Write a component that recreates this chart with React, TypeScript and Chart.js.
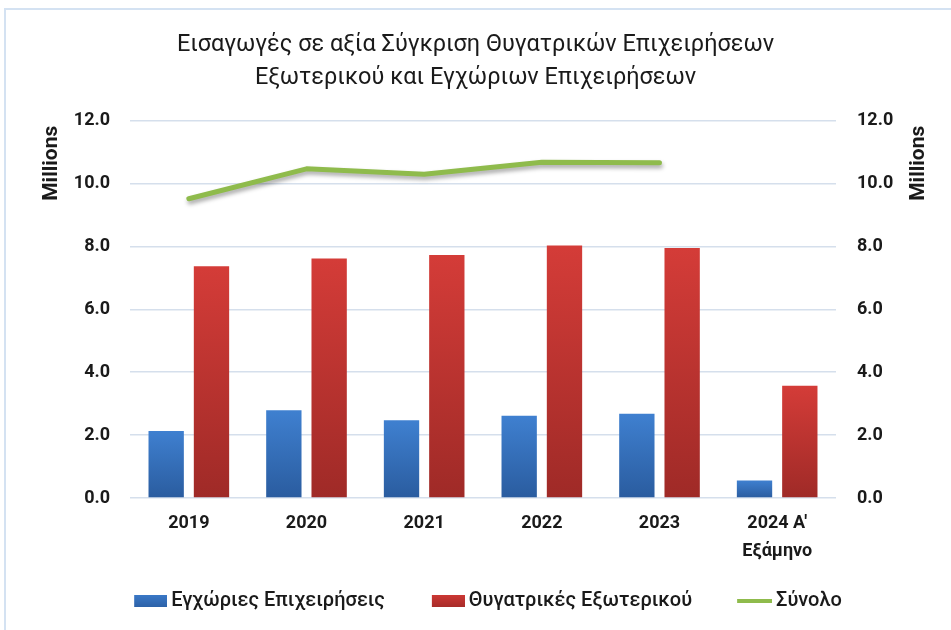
import React, { useEffect, useRef } from "react";
import { Chart, registerables } from "chart.js";

Chart.register(...registerables);

const titleLines = [
  "Εισαγωγές σε αξία Σύγκριση Θυγατρικών Επιχειρήσεων",
  "Εξωτερικού και Εγχώριων Επιχειρήσεων",
];
const categories: (string | string[])[] = ["2019", "2020", "2021", "2022", "2023", ["2024 Α'", "Εξάμηνο"]];
const seriesNames = ["Εγχώριες Επιχειρήσεις", "Θυγατρικές Εξωτερικού", "Σύνολο"];
const domestic = [2.13, 2.79, 2.47, 2.62, 2.68, 0.56];
const foreign = [7.37, 7.62, 7.73, 8.03, 7.95, 3.57];
const total: (number | null)[] = [9.52, 10.47, 10.3, 10.68, 10.66, null];
const axisUnit = "Millions";
const yMin = 0;
const yMax = 12;
const yStep = 2;

const BLUE_TOP = "#3f80d0";
const BLUE_BOT = "#2a5c9f";
const RED_TOP = "#d43c38";
const RED_BOT = "#9f2a27";
const GREEN = "#8fbb4c";
const FONT = "Roboto";

const barGradient = (top: string, bottom: string) => (ctx: any) => {
  const chart = ctx.chart;
  if (!chart.chartArea || ctx.type !== "data") return top;
  const y = chart.scales.y;
  const yTop = y.getPixelForValue(ctx.raw);
  const yBot = y.getPixelForValue(0);
  if (!isFinite(yTop) || !isFinite(yBot) || yTop === yBot) return top;
  const g = chart.ctx.createLinearGradient(0, yTop, 0, yBot);
  g.addColorStop(0, top);
  g.addColorStop(1, bottom);
  return g;
};

// legend symbol images: wide transparent canvas with the symbol at its right end
const LEG_W = 52;
const LEG_IMG_W = LEG_W + 12;
const LEG_PAD = 22;
function legendSymbol(kind: "rect" | "line", c1: string, c2: string) {
  const cv = document.createElement("canvas");
  cv.width = LEG_IMG_W;
  cv.height = 14;
  const g = cv.getContext("2d")!;
  if (kind === "rect") {
    const gr = g.createLinearGradient(0, 1, 0, 13);
    gr.addColorStop(0, c1);
    gr.addColorStop(1, c2);
    g.fillStyle = gr;
    g.fillRect(LEG_IMG_W - 33, 1, 33, 12);
  } else {
    g.strokeStyle = c1;
    g.lineWidth = 4;
    g.beginPath();
    g.moveTo(LEG_IMG_W - 35, 7);
    g.lineTo(LEG_IMG_W, 7);
    g.stroke();
  }
  return cv;
}

const lineShadow = {
  id: "lineShadow",
  beforeDatasetDraw(chart: any, args: any) {
    if (args.index === 2) {
      const c = chart.ctx;
      c.save();
      c.shadowColor = "rgba(0,0,0,0.35)";
      c.shadowBlur = 4;
      c.shadowOffsetX = 1;
      c.shadowOffsetY = 3;
    }
  },
  afterDatasetDraw(chart: any, args: any) {
    if (args.index === 2) chart.ctx.restore();
  },
};

const unitLabels = {
  id: "unitLabels",
  afterDraw(chart: any) {
    const { ctx, chartArea } = chart;
    ctx.save();
    ctx.font = `bold 21px ${FONT}`;
    ctx.fillStyle = "#1a1a1a";
    ctx.textAlign = "right";
    ctx.textBaseline = "middle";
    for (const x of [chartArea.left - 78, chartArea.right + 83]) {
      ctx.save();
      ctx.translate(x, chartArea.top + 5);
      ctx.rotate(-Math.PI / 2);
      ctx.fillText(axisUnit, 0, 0);
      ctx.restore();
    }
    ctx.restore();
  },
};

export default function App() {
  const ref = useRef<HTMLCanvasElement | null>(null);

  useEffect(() => {
    if (!ref.current) return;
    const tickFont = { family: FONT, size: 18, weight: "bold" as const, lineHeight: 1.55 };
    const symBlue = legendSymbol("rect", "#3a78c6", "#2d62a8");
    const symRed = legendSymbol("rect", "#cc3834", "#a82c29");
    const symGreen = legendSymbol("line", GREEN, GREEN);
    const chart = new Chart(ref.current, {
      type: "bar",
      data: {
        labels: categories,
        datasets: [
          {
            type: "bar",
            label: seriesNames[0],
            data: domestic,
            backgroundColor: barGradient(BLUE_TOP, BLUE_BOT),
            borderWidth: 0,
            yAxisID: "y",
            order: 2,
            categoryPercentage: 0.77,
            barPercentage: 0.78,
          },
          {
            type: "bar",
            label: seriesNames[1],
            data: foreign,
            backgroundColor: barGradient(RED_TOP, RED_BOT),
            borderWidth: 0,
            yAxisID: "y",
            order: 2,
            categoryPercentage: 0.77,
            barPercentage: 0.78,
          },
          {
            type: "line",
            label: seriesNames[2],
            data: total,
            borderColor: GREEN,
            backgroundColor: GREEN,
            borderWidth: 5,
            pointRadius: 0,
            pointHoverRadius: 0,
            tension: 0,
            spanGaps: false,
            borderCapStyle: "round",
            borderJoinStyle: "round",
            yAxisID: "y",
            order: 1,
          } as any,
        ],
      },
      options: {
        responsive: false,
        animation: false,
        layout: { padding: { left: 0, right: 0, top: 0, bottom: 9 } },
        plugins: {
          title: {
            display: true,
            text: titleLines,
            color: "#1a1a1a",
            font: { family: FONT, size: 23.5, weight: "normal", lineHeight: 1.42 },
            padding: { top: 28, bottom: 26 },
          },
          legend: {
            position: "bottom",
            labels: {
              usePointStyle: true,
              pointStyleWidth: LEG_W,
              boxHeight: 12,
              padding: LEG_PAD,
              color: "#1a1a1a",
              font: { family: FONT, size: 20, weight: "500" },
              generateLabels: () => [
                { text: seriesNames[0], fillStyle: "#3670bb", strokeStyle: "#3670bb", lineWidth: 0, pointStyle: symBlue, datasetIndex: 0, hidden: false, fontColor: "#1a1a1a" },
                { text: seriesNames[1], fillStyle: "#c13431", strokeStyle: "#c13431", lineWidth: 0, pointStyle: symRed, datasetIndex: 1, hidden: false, fontColor: "#1a1a1a" },
                { text: seriesNames[2], fillStyle: GREEN, strokeStyle: GREEN, lineWidth: 0, pointStyle: symGreen, datasetIndex: 2, hidden: false, fontColor: "#1a1a1a" },
              ] as any,
            },
          },
          tooltip: { enabled: false },
        },
        scales: {
          x: {
            grid: { display: false, drawTicks: false },
            border: { display: false },
            ticks: { color: "#1a1a1a", font: tickFont, padding: 12, maxRotation: 0, autoSkip: false },
            afterFit: (s: any) => {
              s.height = 71;
            },
          },
          y: {
            position: "left",
            min: yMin,
            max: yMax,
            grid: { color: "#d5dfec", lineWidth: 1.5, drawTicks: false },
            border: { display: false },
            ticks: {
              stepSize: yStep,
              color: "#1a1a1a",
              font: tickFont,
              padding: 20,
              callback: (v: any) => Number(v).toFixed(1),
            },
            afterFit: (s: any) => {
              s.width = 130;
            },
          },
          y1: {
            position: "right",
            min: yMin,
            max: yMax,
            grid: { display: false, drawTicks: false },
            border: { display: false },
            ticks: {
              stepSize: yStep,
              color: "#1a1a1a",
              font: tickFont,
              padding: 21,
              callback: (v: any) => Number(v).toFixed(1),
            },
            afterFit: (s: any) => {
              s.width = 115;
            },
          },
        },
      },
      plugins: [lineShadow, unitLabels],
    });
    return () => chart.destroy();
  }, []);

  return (
    <div style={{ position: "absolute", left: 0, top: 0, width: 951, height: 630, background: "#fff", overflow: "hidden" }}>
      <div
        style={{
          position: "absolute",
          left: 4,
          top: 8,
          width: 980,
          height: 660,
          border: "2px solid #d4e2f2",
          boxSizing: "border-box",
        }}
      />
      <canvas ref={ref} width={951} height={630} style={{ position: "absolute", left: 0, top: 0, width: 951, height: 630 }} />
    </div>
  );
}
